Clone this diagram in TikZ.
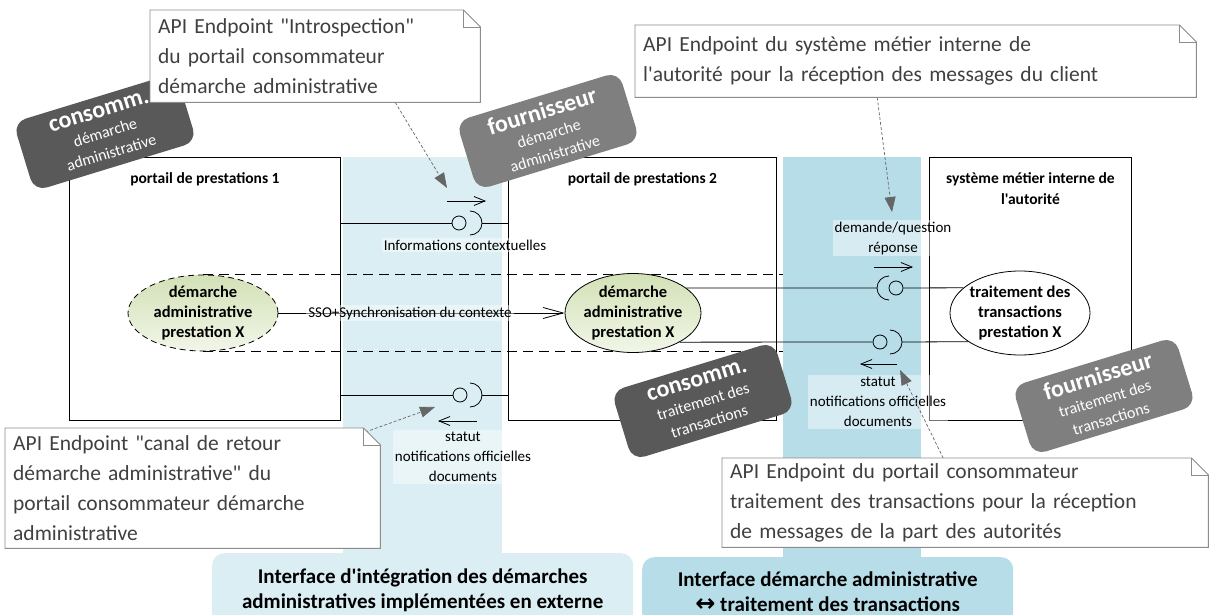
\documentclass[tikz,border=0pt]{standalone}
\usepackage{fontspec}
\setmainfont{Carlito}[Ligatures=TeXOff]
\newfontfamily\symfont{DejaVu Sans}
\usetikzlibrary{arrows.meta,shapes.geometric}
\pgfdeclarelayer{notefill}
\pgfdeclarelayer{notetext}
\pgfsetlayers{main,notefill,notetext}

\definecolor{bandA}{HTML}{DAEEF3}
\definecolor{bandB}{HTML}{B7DDE8}
\definecolor{badgeDark}{HTML}{595959}
\definecolor{badgeLight}{HTML}{7F7F7F}
\definecolor{noteLine}{HTML}{8C8C8C}
\definecolor{noteText}{HTML}{404040}
\definecolor{useTop}{HTML}{D3E1B6}
\definecolor{useBot}{HTML}{F1F6E8}
\definecolor{pointer}{HTML}{666666}

\newcommand{\fs}[2]{\fontsize{#1}{#2}\selectfont}
\newcommand{\badgetext}[3]{{\fs{24}{24}\bfseries #1}\\[0pt]#2\\#3}

\begin{document}
\begin{tikzpicture}[x=1pt,y=-1pt,
  lane/.style={inner sep=0, anchor=north west},
  lanelabel/.style={rounded corners=12pt, anchor=north west, inner sep=0,
    font=\fs{21}{25}\bfseries, align=center},
  comp/.style={draw, line width=0.9pt, anchor=north west, inner sep=0},
  comptitle/.style={font=\fs{15.5}{21}\bfseries, align=center},
  usecase/.style={ellipse, draw, line width=0.8pt, top color=useTop,
    bottom color=useBot, inner sep=0},
  plaincase/.style={ellipse, draw, line width=0.8pt, fill=white, inner sep=0},
  usetext/.style={font=\fs{16.5}{20}\bfseries, align=center},
  ball/.style={circle, draw, line width=0.8pt, minimum size=14pt, inner sep=0},
  wire/.style={line width=0.8pt},
  socket/.style={line width=0.8pt},
  flow/.style={line width=0.8pt, -{Straight Barb[length=11pt,width=9pt]}},
  flowlabel/.style={font=\fs{15}{20}, align=center, fill=white,
    fill opacity=0.45, text opacity=1, inner sep=2pt},
  group/.style={line width=1.1pt, dash pattern=on 10pt off 6pt},
  badge/.style={rounded corners=13pt, minimum width=170pt, minimum height=72pt,
    inner sep=0, text=white, align=center, rotate=17, font=\fs{16}{21}},
  note/.style={anchor=north west, inner xsep=8pt, inner ysep=0, align=left,
    font=\fs{21.5}{30}, text=noteText},
  noteborder/.style={draw=noteLine, line width=0.9pt, fill=white},
  pointerline/.style={draw=pointer, line width=0.7pt, dash pattern=on 3pt off 2pt,
    -{Triangle[length=15pt,width=11pt,fill=pointer]}}
]
\useasboundingbox (0,0) rectangle (1210,615);
\clip (0,0) rectangle (1210,615);

% interface lanes and their captions
\node[lane, fill=bandA, minimum width=159pt, minimum height=400pt] (laneA) at (343,157) {};
\node[lane, fill=bandB, minimum width=138pt, minimum height=405pt] (laneB) at (783,157) {};
\node[lanelabel, fill=bandA, minimum width=421pt, minimum height=75pt] (labA) at (212,553)
  {Interface d'intégration des démarches\\administratives implémentées en externe};
\node[lanelabel, fill=bandB, minimum width=371pt, minimum height=68pt] (labB) at (642,557)
  {Interface démarche administrative\\{\symfont\fs{24}{25}\bfseries ↔} traitement des transactions};

% components
\node[comp, minimum width=271pt, minimum height=263pt] (box1) at (69,157) {};
\node[comp, minimum width=268pt, minimum height=263pt] (box2) at (508,157) {};
\node[comp, minimum width=202pt, minimum height=263pt] (box3) at (929,157) {};
\node[comptitle] (t1) at ([yshift=-22pt]box1.north) {portail de prestations 1};
\node[comptitle] (t2) at ([yshift=-22pt]box2.north) {portail de prestations 2};
\node[comptitle] (t3) at ([yshift=-32pt]box3.north) {système métier interne de\\l'autorité};

% use cases
\node[usecase, dash pattern=on 6pt off 4pt, minimum width=150pt, minimum height=76pt] (ucA) at (203,313) {};
\node[usetext] (ucAt) at (ucA) {démarche\\administrative\\prestation X};
\draw[group] (ucA.north) -- (ucA.north -| laneB.west);
\draw[group] (ucA.south) -- (ucA.south -| laneB.west);
\node[usecase, minimum width=136pt, minimum height=79pt] (ucB) at (633,313) {};
\node[usetext] (ucBt) at (ucB) {démarche\\administrative\\prestation X};
\node[plaincase, minimum width=140pt, minimum height=84pt] (ucC) at (1020,313) {};
\node[usetext] (ucCt) at (ucC) {traitement des\\transactions\\prestation X};

% SSO link
\draw[wire, -{Straight Barb[length=20pt,width=11pt]}] (ucA.east) -- (ucB.west);
\node[flowlabel] (lblSSO) at (410,313) {SSO+Synchronisation du contexte};

% interface: contextual information
\node[ball] (ballA) at (459,223) {};
\coordinate (sockA) at (482,223);
\draw[socket] (sockA) ++(-12,-12) arc[start angle=90, end angle=-90, radius=12pt];
\draw[wire] (box1.east |- ballA) -- (ballA);
\draw[wire] (sockA) -- (box2.west |- sockA);
\draw[flow] (447,201) -- (486,201);
\node[flowlabel] (lblA) at (465,245) {Informations contextuelles};

% interface: return channel
\node[ball] (ballB) at (460,395) {};
\coordinate (sockB) at (482,395);
\draw[socket] (sockB) ++(-12,-12) arc[start angle=90, end angle=-90, radius=12pt];
\draw[wire] (box1.east |- ballB) -- (ballB);
\draw[wire] (sockB) -- (box2.west |- sockB);
\draw[flow] (477,421) -- (438,421);
\node[flowlabel] (lblB) at (463,457) {statut\\notifications officielles\\documents};

% interface: request to the authority
\node[ball] (ballC) at (896,288) {};
\coordinate (sockC) at (877,288);
\draw[socket] (sockC) ++(12,-12) arc[start angle=90, end angle=270, radius=12pt];
\draw[wire] (ucB.25.5) -- (sockC);
\draw[wire] (ballC) -- (ucC.156.1);
\draw[flow] (874,267) -- (913,267);
\node[flowlabel] (lblC) at (893,238) {demande/question\\réponse};

% interface: messages from the authority
\node[ball] (ballD) at (880,342) {};
\coordinate (sockD) at (902,342);
\draw[socket] (sockD) ++(-12,-12) arc[start angle=90, end angle=-90, radius=12pt];
\draw[wire] (ucB.-32.2) -- (ballD);
\draw[wire] (sockD) -- (ucC.209.8);
\draw[flow] (897,364) -- (860,364);
\node[flowlabel] (lblD) at (878,402) {statut\\notifications officielles\\documents};

% role badges
\node[badge, fill=badgeDark] (roleA) at (105,132) {\badgetext{consomm.}{démarche}{administrative}};
\node[badge, fill=badgeLight] (roleB) at (548,131) {\badgetext{fournisseur}{démarche}{administrative}};
\node[badge, fill=badgeDark] (roleC) at (703,401) {\badgetext{consomm.}{traitement des}{transactions}};
\node[badge, fill=badgeLight] (roleD) at (1104,396) {\badgetext{fournisseur}{traitement des}{transactions}};

% notes
\begin{pgfonlayer}{notetext}
\node[note, minimum width=330pt, minimum height=92pt, text width=314pt] (noteA) at (150,10)
  {API Endpoint "Introspection"\\du portail consommateur\\démarche administrative};
\node[note, minimum width=561pt, minimum height=72pt, text width=545pt] (noteB) at (635,25)
  {API Endpoint du système métier interne de\\l'autorité pour la réception des messages du client};
\node[note, minimum width=375pt, minimum height=120pt, text width=359pt] (noteC) at (5,428)
  {API Endpoint "canal de retour\\démarche administrative" du\\portail consommateur démarche\\administrative};
\node[note, minimum width=486pt, minimum height=89pt, text width=470pt] (noteD) at (722,458)
  {API Endpoint du portail consommateur\\traitement des transactions pour la réception\\de messages de la part des autorités};
\end{pgfonlayer}
\begin{pgfonlayer}{notefill}
\foreach \n in {noteA,noteB,noteC,noteD}{
  \draw[noteborder] (\n.south west) -- (\n.north west) -- ([xshift=-17pt]\n.north east)
    -- ([yshift=-17pt]\n.north east) -- (\n.south east) -- cycle;
  \draw[draw=noteLine, line width=0.9pt] ([xshift=-17pt]\n.north east) |- ([yshift=-17pt]\n.north east);
}
\end{pgfonlayer}

% note pointers
\coordinate (tipA) at (447,188);
\coordinate (tipB) at (892,212);
\coordinate (tipC) at (435,407);
\coordinate (tipD) at (900,370);
\draw[pointerline] ([xshift=80pt]noteA.south) -- (tipA);
\draw[pointerline] ([xshift=-38.5pt]noteB.south) -- (tipB);
\draw[pointerline] ([xshift=-15pt,yshift=-4pt]noteC.north east) -- (tipC);
\draw[pointerline] ([xshift=-22pt]noteD.north) -- (tipD);
\end{tikzpicture}
\end{document}
